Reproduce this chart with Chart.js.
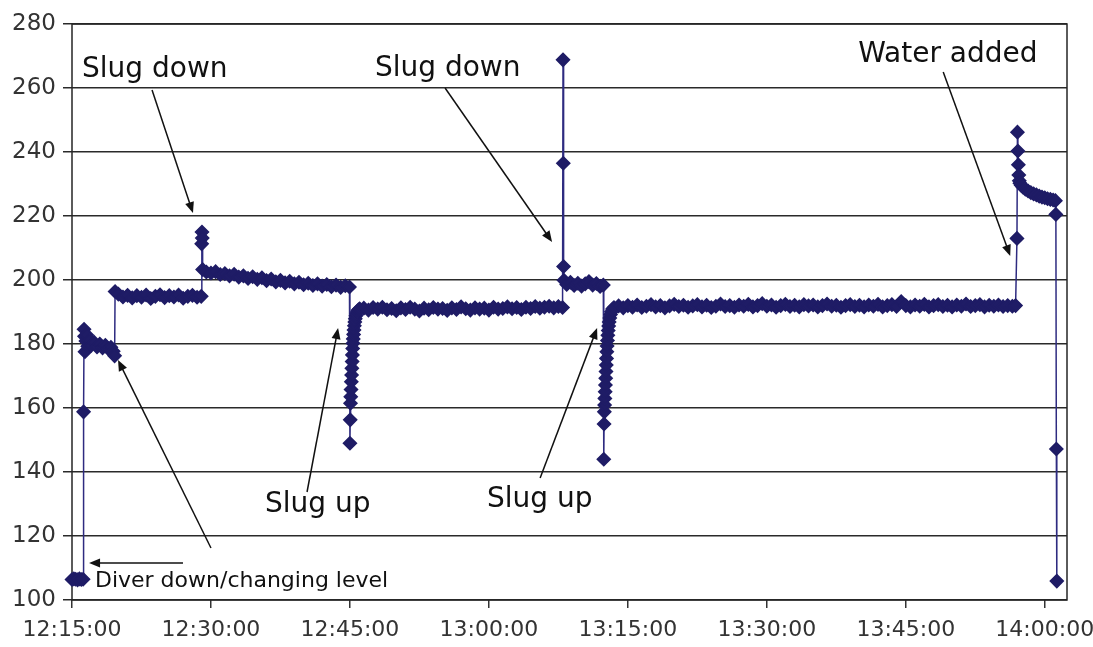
<!DOCTYPE html>
<html>
<head>
<meta charset="utf-8">
<script src="https://cdn.jsdelivr.net/npm/chart.js@4.4.0/dist/chart.umd.min.js"></script>
<style>
  html, body { margin: 0; padding: 0; background: #fff; }
</style>
</head>
<body>
<canvas id="levelChart" width="1093" height="647"></canvas>
<script>
// readings: [minutes after 12:15:00, water level]
var diverDown = [[0,106.4],[0.2,106.6],[0.4,106.5],[0.6,106.3],[0.8,106.6],[1.0,106.4],[1.2,106.5]];
var firstSettle = [[1.25,158.8],[1.3,184.6],[1.35,182.4],[1.4,177.6],[1.5,180.9],[1.6,182.8],[1.7,179.3],[1.9,181.2],
  [2.1,179.6],[2.4,180.5],[2.7,179.1],[3.0,180.0],[3.3,178.8],[3.6,179.6],[3.9,178.5],[4.2,179.0],[4.45,177.7],[4.6,176.3]];
var plateau1 = [[4.65,196.4],[5.0,195.6],[5.5,194.7],[6.0,195.2],[6.5,194.4],[7.0,195.1],[7.5,194.6],[8.0,195.3],
  [8.5,194.2],[9.0,194.9],[9.5,195.4],[10.0,194.5],[10.5,195.1],[11.0,194.7],[11.5,195.3],[12.0,194.3],[12.5,194.9],
  [13.0,195.2],[13.5,194.6],[13.95,194.9]];
var slugDown1 = [[14.0,211.3],[14.03,215.0],[14.06,213.1],[14.1,203.3]];
var plateau2 = [[14.5,202.5],[15.0,202.2],[15.5,202.6],[16.0,201.7],[16.5,202.0],[17.0,201.3],[17.5,201.8],[18.0,200.9],
  [18.5,201.3],[19.0,200.5],[19.5,201.0],[20.0,200.2],[20.5,200.7],[21.0,199.8],[21.5,200.3],[22.0,199.4],[22.5,199.9],
  [23.0,199.1],[23.5,199.6],[24.0,198.8],[24.5,199.3],[25.0,198.5],[25.5,199.0],[26.0,198.3],[26.5,198.8],[27.0,198.1],
  [27.5,198.6],[28.0,197.9],[28.5,198.4],[29.0,197.7],[29.5,198.2],[29.95,197.8]];
var slugUp1 = [[30.0,149.0],[30.03,156.3],[30.06,161.5],[30.09,163.5],[30.12,165.8],[30.15,168.2],[30.18,170.3],
  [30.21,172.4],[30.24,174.5],[30.27,176.6],[30.3,178.6],[30.33,180.2],[30.36,181.6],[30.4,183.0],[30.44,184.4],
  [30.48,185.7],[30.53,186.9],[30.58,187.9],[30.65,188.8],[30.73,189.6],[30.82,190.2],[30.92,190.7],[31.05,191.0]];
var plateau3 = [[31.5,191.2],[32.0,190.6],[32.5,191.4],[33.0,190.9],[33.5,191.5],[34.0,190.7],[34.5,191.1],[35.0,190.4],
  [35.5,191.3],[36.0,190.8],[36.5,191.5],[37.0,190.9],[37.5,190.3],[38.0,191.2],[38.5,190.7],[39.0,191.4],[39.5,190.9],
  [40.0,191.1],[40.5,190.5],[41.0,191.3],[41.5,190.8],[42.0,191.6],[42.5,191.0],[43.0,190.6],[43.5,191.3],[44.0,190.9],
  [44.5,191.2],[45.0,190.6],[45.5,191.5],[46.0,190.9],[46.5,191.1],[47.0,191.6],[47.5,191.0],[48.0,191.4],[48.5,190.8],
  [49.0,191.5],[49.5,191.1],[50.0,191.7],[50.5,191.2],[51.0,191.5],[51.5,191.8],[52.0,191.3],[52.5,191.7],[52.95,191.4]];
var slugDown2 = [[53.0,268.8],[53.03,236.5],[53.06,204.2]];
var plateau4 = [[53.1,199.9],[53.4,198.6],[53.8,199.3],[54.2,198.3],[54.6,199.0],[55.0,198.1],[55.4,198.8],[55.8,199.5],
  [56.2,198.4],[56.6,198.9],[57.0,198.0],[57.35,198.4]];
var slugUp2 = [[57.4,144.0],[57.43,155.0],[57.46,158.8],[57.49,160.9],[57.52,163.0],[57.55,165.1],[57.58,167.2],
  [57.61,169.3],[57.64,171.4],[57.67,173.4],[57.7,175.5],[57.73,177.6],[57.76,179.4],[57.8,181.1],[57.84,182.7],
  [57.88,184.2],[57.93,185.6],[57.98,186.9],[58.05,188.1],[58.13,189.2],[58.22,190.1],[58.35,190.9],[58.5,191.4]];
var plateau5 = [[59.0,191.9],[59.5,191.3],[60.0,192.0],[60.5,191.5],[61.0,192.2],[61.5,191.4],[62.0,191.8],[62.5,192.3],
  [63.0,191.6],[63.5,192.0],[64.0,191.3],[64.5,191.9],[65.0,192.4],[65.5,191.7],[66.0,192.1],[66.5,191.5],[67.0,191.9],
  [67.5,192.3],[68.0,191.6],[68.5,192.1],[69.0,191.4],[69.5,191.8],[70.0,192.5],[70.5,191.7],[71.0,192.0],[71.5,191.5],
  [72.0,192.2],[72.5,191.8],[73.0,192.4],[73.5,191.6],[74.0,192.0],[74.5,192.6],[75.0,191.8],[75.5,192.2],[76.0,191.5],
  [76.5,192.0],[77.0,192.4],[77.5,191.7],[78.0,192.1],[78.5,191.6],[79.0,192.3],[79.5,191.9],[80.0,192.2],[80.5,191.6],
  [81.0,192.0],[81.5,192.5],[82.0,191.8],[82.5,192.1],[83.0,191.5],[83.5,192.0],[84.0,192.3],[84.5,191.7],[85.0,192.1],
  [85.5,191.6],[86.0,192.2],[86.5,191.8],[87.0,192.4],[87.5,191.6],[88.0,192.0],[88.5,192.3],[89.0,191.7],[89.5,193.3],
  [90.0,192.0],[90.5,191.6],[91.0,192.2],[91.5,191.8],[92.0,192.4],[92.5,191.6],[93.0,192.0],[93.5,192.3],[94.0,191.7],
  [94.5,192.1],[95.0,191.6],[95.5,192.2],[96.0,191.8],[96.5,192.5],[97.0,191.7],[97.5,192.0],[98.0,192.3],[98.5,191.6],
  [99.0,192.1],[99.5,191.8],[100.0,192.2],[100.5,191.7],[101.0,192.0],[101.5,191.8],[101.85,192.0]];
var waterAdded = [[102.0,213.0],[102.05,246.2],[102.1,240.3],[102.15,236.0],[102.2,232.8],[102.25,231.0],[102.32,230.2],
  [102.45,229.6],[102.65,229.0],[102.9,228.4],[103.2,227.8],[103.5,227.3],[103.8,226.9],[104.1,226.6],[104.4,226.2],
  [104.7,225.9],[105.0,225.7],[105.3,225.4],[105.6,225.2],[105.9,225.0],[106.15,224.8]];
var diverUp = [[106.2,220.5],[106.25,147.2],[106.3,105.9]];

var xTickMinutes = [0, 15, 30, 45, 60, 75, 90, 105];
var xTickLabels = ['12:15:00', '12:30:00', '12:45:00', '13:00:00', '13:15:00', '13:30:00', '13:45:00', '14:00:00'];

// notes: text at [min, level], arrow from -> to (data coords)
var notes = [
  { text: 'Slug down', at: [1.08, 263.4], size: 28, from: [8.64, 259.4], to: [13.06, 220.9] },
  { text: 'Slug down', at: [32.7, 263.75], size: 28, from: [40.27, 260], to: [51.82, 211.9] },
  { text: 'Water added', at: [84.86, 268.1], size: 28, from: [94.04, 265], to: [101.27, 207.5] },
  { text: 'Slug up', at: [20.84, 127.5], size: 28, from: [25.37, 133.75], to: [28.72, 185] },
  { text: 'Slug up', at: [44.8, 129.1], size: 28, from: [50.53, 138.1], to: [56.68, 185] },
  { text: 'Diver down/changing level', at: [2.48, 104], size: 22, from: [11.98, 111.6], to: [1.84, 111.6] },
  { text: '', at: null, size: 0, from: [15.0, 116.25], to: [4.97, 175] }
];

var readings = [].concat(diverDown, firstSettle, plateau1, slugDown1, plateau2, slugUp1, plateau3,
  slugDown2, plateau4, slugUp2, plateau5, waterAdded, diverUp);

var frame = {
  id: 'frame',
  beforeDatasetsDraw: function(chart) {
    var a = chart.chartArea, ctx = chart.ctx;
    ctx.save();
    ctx.strokeStyle = '#262626';
    ctx.lineWidth = 1.5;
    ctx.strokeRect(a.left, a.top, a.right - a.left, a.bottom - a.top);
    ctx.restore();
  }
};

var arrows = {
  id: 'arrows',
  afterDatasetsDraw: function(chart) {
    var ctx = chart.ctx, xs = chart.scales.x, ys = chart.scales.y;
    ctx.save();
    notes.forEach(function(n) {
      var x1 = xs.getPixelForValue(n.from[0]), y1 = ys.getPixelForValue(n.from[1]);
      var x2 = xs.getPixelForValue(n.to[0]), y2 = ys.getPixelForValue(n.to[1]);
      var ang = Math.atan2(y2 - y1, x2 - x1);
      ctx.strokeStyle = '#111';
      ctx.fillStyle = '#111';
      ctx.lineWidth = 1.5;
      ctx.beginPath();
      ctx.moveTo(x1, y1);
      ctx.lineTo(x2 - 6 * Math.cos(ang), y2 - 6 * Math.sin(ang));
      ctx.stroke();
      ctx.beginPath();
      ctx.moveTo(x2, y2);
      ctx.lineTo(x2 - 11 * Math.cos(ang) + 4.5 * Math.sin(ang), y2 - 11 * Math.sin(ang) - 4.5 * Math.cos(ang));
      ctx.lineTo(x2 - 11 * Math.cos(ang) - 4.5 * Math.sin(ang), y2 - 11 * Math.sin(ang) + 4.5 * Math.cos(ang));
      ctx.closePath();
      ctx.fill();
      if (n.text) {
        ctx.font = n.size + 'px "DejaVu Sans"';
        ctx.textAlign = 'left';
        ctx.textBaseline = 'alphabetic';
        ctx.fillText(n.text, xs.getPixelForValue(n.at[0]), ys.getPixelForValue(n.at[1]));
      }
    });
    ctx.restore();
  }
};

var ctx = document.getElementById('levelChart').getContext('2d');
var levelChart = new Chart(ctx, {
  type: 'line',
  data: {
    datasets: [{
      data: readings.map(function(r) { return { x: r[0], y: r[1] }; }),
      borderColor: '#2e2b80',
      borderWidth: 1.5,
      pointStyle: 'rectRot',
      pointRadius: 6.5,
      pointBorderWidth: 1.5,
      pointBackgroundColor: '#1f1c66',
      pointBorderColor: '#1f1c66',
      tension: 0,
      clip: false
    }]
  },
  options: {
    responsive: false,
    animation: false,
    devicePixelRatio: 1,
    layout: { padding: { top: 24, right: 26, left: 0, bottom: 0 } },
    plugins: { legend: { display: false }, tooltip: { enabled: false } },
    scales: {
      x: {
        type: 'linear',
        min: 0,
        max: 107.4,
        afterBuildTicks: function(s) {
          s.ticks = xTickMinutes.map(function(m) { return { value: m }; });
        },
        afterFit: function(s) { s.height = 47; s.paddingLeft = 0; s.paddingRight = 0; },
        grid: { drawOnChartArea: false, drawTicks: true, tickLength: 8, color: '#333', lineWidth: 1.5 },
        border: { display: false },
        ticks: {
          autoSkip: false, maxRotation: 0, padding: 9, color: '#333',
          font: { family: 'DejaVu Sans', size: 22 },
          callback: function(v) { return xTickLabels[xTickMinutes.indexOf(v)]; }
        }
      },
      y: {
        min: 100,
        max: 280,
        afterFit: function(s) { s.width = 72; },
        grid: { color: '#2a2a2a', lineWidth: 1.5, tickLength: 9, drawTicks: true },
        border: { display: false },
        ticks: { stepSize: 20, padding: 7, color: '#333', font: { family: 'DejaVu Sans', size: 23 } }
      }
    }
  },
  plugins: [frame, arrows]
});
</script>
</body>
</html>
